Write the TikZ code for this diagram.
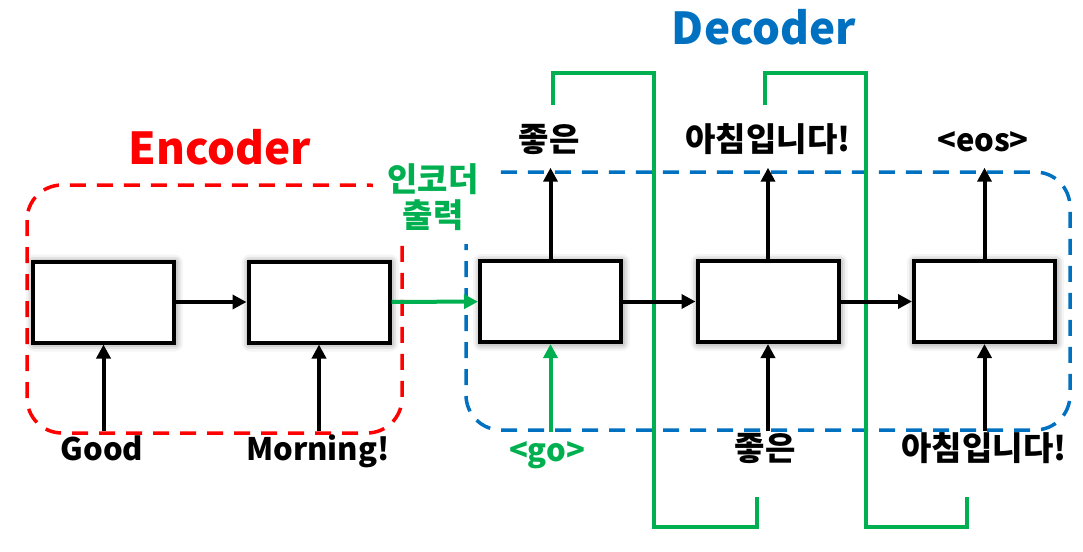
\documentclass[tikz,border=0pt]{standalone}
\usepackage{fontspec}
\setmainfont{Noto Sans CJK KR}
\usetikzlibrary{arrows.meta,shadows.blur}
\definecolor{encred}{HTML}{FF0000}
\definecolor{decblue}{HTML}{0070C0}
\definecolor{ctxgreen}{HTML}{00B050}
\tikzset{
  cell/.style={draw,fill=white,line width=4pt,minimum width=141pt,minimum height=81pt,inner sep=0pt,
    blur shadow={shadow xshift=1pt,shadow yshift=-1pt,shadow blur radius=8pt,shadow opacity=60}},
  flow/.style={->,line width=4pt},
  word/.style={font=\bfseries\fontsize{31}{36}\selectfont,inner xsep=0pt,inner ysep=6pt,text height=23pt,text depth=6pt},
  kword/.style={word,font=\bfseries\fontsize{33}{38}\selectfont},
  title/.style={font=\bfseries\fontsize{44}{50}\selectfont,inner sep=0pt},
  box/.style={dashed,dash pattern=on 16pt off 11pt,line width=3.5pt,rounded corners=35pt},
  feed/.style={ctxgreen,line width=3.5pt}
}
\begin{document}
\begin{tikzpicture}[x=1pt,y=-1pt,>={Triangle[length=14pt,width=14pt]}]
	\useasboundingbox (0,0) rectangle (1083,551);
	% encoder / decoder areas
	\draw[box,encred] (27,185) rectangle (402,433);
	\draw[box,decblue] (466,172) rectangle (1070,430);
	\node[ctxgreen,fill=white,align=center,inner xsep=14pt,inner ysep=14pt,font=\bfseries\fontsize{33}{36}\selectfont] (ctx) at (433,197) {인코더\\출력};
	\node[title,encred] (enc) at (220,147) {Encoder};
	\node[title,decblue] (dec) at (764,27) {Decoder};
	% feedback of the outputs
	\coordinate (f1a) at (553,105); \coordinate (f1b) at (757,497);
	\coordinate (f2a) at (765,105); \coordinate (f2b) at (967,497);
	\draw[feed] (f1a)--(553,73)--(654,73)--(654,527)--(757,527)--(f1b);
	\draw[feed] (f2a)--(765,73)--(866,73)--(866,527)--(967,527)--(f2b);
	% cells
	\node[cell] (e1) at (103.5,302) {};
	\node[cell] (e2) at (319,302) {};
	\node[cell] (d1) at (550.5,301.5) {};
	\node[cell] (d2) at (768,301.5) {};
	\node[cell] (d3) at (984.5,301.5) {};
	% words
	\node[word] (good) at (102,452) {Good};
	\node[word] (morning) at (318,452) {Morning!};
	\node[word,ctxgreen] (go) at (547,453) {<go>};
	\node[kword] (in2) at (765,452) {좋은};
	\node[kword] (in3) at (984,452) {아침입니다!};
	\node[kword,inner ysep=10pt] (out1) at (549,143) {좋은};
	\node[kword,inner ysep=10pt] (out2) at (768,143) {아침입니다!};
	\node[word,inner ysep=10pt] (out3) at (983,143) {<eos>};
	% connections
	\draw[flow] (e1)--(e2);
	\draw[flow,ctxgreen] (e2)--(d1);
	\draw[flow] (d1)--(d2);
	\draw[flow] (d2)--(d3);
	\draw[flow] (good.north-|e1)--(e1);
	\draw[flow] (morning.north-|e2)--(e2);
	\draw[flow,ctxgreen] (go.north-|d1)--(d1);
	\draw[flow] (in2.north-|d2)--(d2);
	\draw[flow] (in3.north-|d3)--(d3);
	\draw[flow] (d1)--(out1.south-|d1);
	\draw[flow] (d2)--(out2.south-|d2);
	\draw[flow] (d3)--(out3.south-|d3);
\end{tikzpicture}
\end{document}
